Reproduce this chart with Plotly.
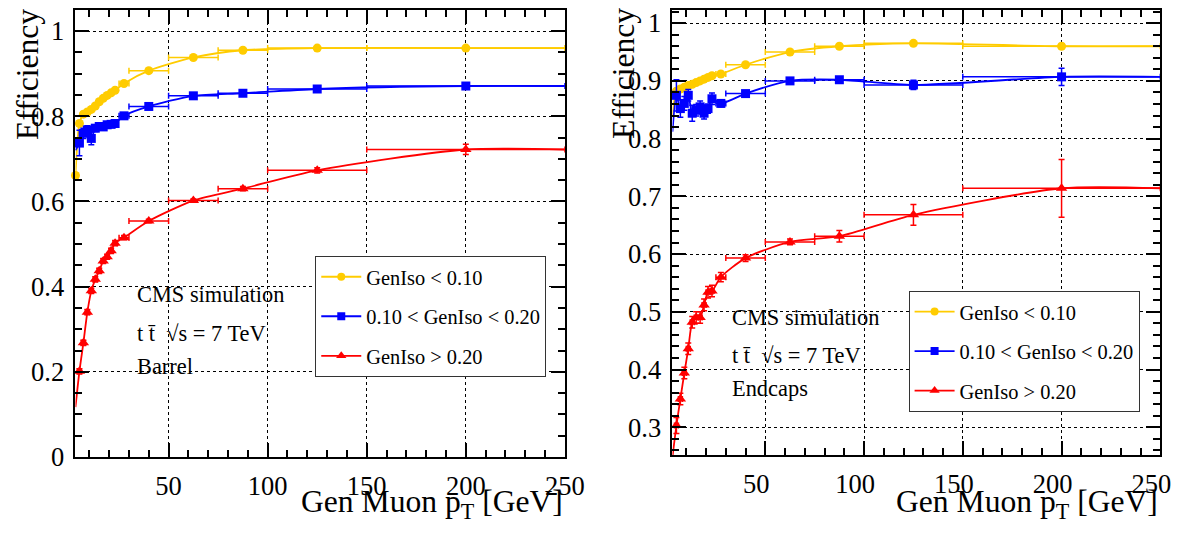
import plotly.graph_objects as go

# Page geometry: the page keeps the browser's 8 px body margin and the
# snapshot is scaled slightly; these constants map reference pixels to
# figure pixels.
BODY_MARGIN = 8
W, H = 1182, 517
S_X, S_Y = 0.988, 0.972
S_F = (S_X * S_Y) ** 0.5

# ---------------- data ----------------
PT_EDGE = 3.0          # first bin / left edge of the x range
PT_MAX = 250.0
PT = [5, 7, 9, 11, 13, 15, 17, 19, 21, 23, 27.5, 40, 62.5, 87.5, 125, 200]
PT_HALF = [1, 1, 1, 1, 1, 1, 1, 1, 1, 1, 2.5, 10, 12.5, 12.5, 25, 50]

SERIES_NAMES = ["GenIso < 0.10", "0.10 < GenIso < 0.20", "GenIso > 0.20"]

# Barrel
BARREL_LOW_EFF = [0.783, 0.805, 0.810, 0.816, 0.824, 0.834, 0.842, 0.849, 0.855, 0.861,
                  0.877, 0.907, 0.938, 0.955, 0.960, 0.960]
BARREL_LOW_ERR = [0.006, 0.005, 0.005, 0.005, 0.004, 0.004, 0.004, 0.004, 0.004, 0.004,
                  0.004, 0.003, 0.003, 0.003, 0.003, 0.004]
BARREL_LOW_EDGE = 0.661
BARREL_MID_EFF = [0.737, 0.760, 0.768, 0.748, 0.772, 0.776, 0.775, 0.780, 0.781, 0.783,
                  0.801, 0.823, 0.848, 0.854, 0.864, 0.871]
BARREL_MID_ERR = [0.030, 0.012, 0.010, 0.015, 0.008, 0.008, 0.007, 0.007, 0.006, 0.006,
                  0.005, 0.004, 0.004, 0.004, 0.004, 0.005]
BARREL_MID_EDGE = 0.72
BARREL_HIGH_EFF = [0.201, 0.268, 0.340, 0.390, 0.417, 0.437, 0.460, 0.470, 0.484, 0.502,
                   0.515, 0.554, 0.602, 0.630, 0.673, 0.722]
BARREL_HIGH_ERR = [0.006, 0.006, 0.006, 0.006, 0.006, 0.006, 0.006, 0.006, 0.006, 0.006,
                   0.005, 0.004, 0.004, 0.005, 0.006, 0.012]
BARREL_HIGH_EDGE = 0.117

# Endcaps
ENDCAP_LOW_EFF = [0.882, 0.886, 0.889, 0.892, 0.894, 0.897, 0.900, 0.903, 0.906, 0.909,
                  0.912, 0.928, 0.950, 0.960, 0.965, 0.960]
ENDCAP_LOW_ERR = [0.004, 0.004, 0.003, 0.003, 0.003, 0.003, 0.003, 0.003, 0.003, 0.003,
                  0.003, 0.002, 0.002, 0.002, 0.003, 0.004]
ENDCAP_LOW_EDGE = 0.84
ENDCAP_MID_EFF = [0.875, 0.852, 0.861, 0.875, 0.844, 0.849, 0.855, 0.844, 0.852, 0.869,
                  0.861, 0.878, 0.900, 0.902, 0.893, 0.907]
ENDCAP_MID_ERR = [0.027, 0.015, 0.012, 0.010, 0.014, 0.010, 0.010, 0.010, 0.008, 0.010,
                  0.006, 0.005, 0.004, 0.005, 0.008, 0.015]
ENDCAP_MID_EDGE = 0.812
ENDCAP_HIGH_EFF = [0.303, 0.349, 0.394, 0.436, 0.482, 0.490, 0.490, 0.512, 0.534, 0.536,
                   0.560, 0.593, 0.621, 0.631, 0.668, 0.714]
ENDCAP_HIGH_ERR = [0.014, 0.010, 0.010, 0.010, 0.010, 0.010, 0.010, 0.010, 0.010, 0.010,
                   0.008, 0.006, 0.005, 0.010, 0.018, 0.050]
ENDCAP_HIGH_EDGE = 0.249

X_TICKS = [50, 100, 150, 200, 250]
X_TICK_TEXT = ["50", "100", "150", "200", "250"]
BARREL_Y_TICKS = [0, 0.2, 0.4, 0.6, 0.8, 1.0]
BARREL_Y_TEXT = ["0", "0.2", "0.4", "0.6", "0.8", "1"]
ENDCAP_Y_TICKS = [0.3, 0.4, 0.5, 0.6, 0.7, 0.8, 0.9, 1.0]
ENDCAP_Y_TEXT = ["0.3", "0.4", "0.5", "0.6", "0.7", "0.8", "0.9", "1"]

# ---------------- styling ----------------
FONT = "Liberation Serif, Times New Roman, serif"
COLORS = ["#FFCC00", "#0000FF", "#FF0000"]
SYMBOLS = ["circle", "square", "triangle-up"]
SIZES = [9, 9, 10]


def fs(size):
    """font size compensated for the snapshot scale"""
    return round(size / S_F, 1)


def px_x(p):
    """reference pixel (x) -> paper fraction"""
    return (p / S_X - BODY_MARGIN) / W


def px_y(p):
    """reference pixel (y, from top) -> paper fraction"""
    return 1 - (p / S_Y - BODY_MARGIN) / H


fig = go.Figure()


def add_series(xa, ya, legend, idx, eff, err, edge, edge_marker):
    color = COLORS[idx]
    xs = [PT_EDGE] + PT + [PT_MAX]
    ys = [edge] + eff + [eff[-1]]
    fig.add_trace(go.Scatter(
        x=xs, y=ys, mode="lines", xaxis=xa, yaxis=ya,
        line=dict(color=color, width=1.8, shape="spline", smoothing=0.7),
        showlegend=False, hoverinfo="skip"))
    mx = ([PT_EDGE] if edge_marker else []) + PT
    my = ([edge] if edge_marker else []) + eff
    mex = ([0] if edge_marker else []) + PT_HALF
    mey = ([0.006] if edge_marker else []) + err
    fig.add_trace(go.Scatter(
        x=mx, y=my, mode="markers", xaxis=xa, yaxis=ya, cliponaxis=False,
        marker=dict(color=color, symbol=SYMBOLS[idx], size=SIZES[idx], line=dict(width=0)),
        error_x=dict(type="data", array=mex, color=color, thickness=1.5, width=3),
        error_y=dict(type="data", array=mey, color=color, thickness=1.5, width=3),
        showlegend=False))
    # legend entry
    fig.add_trace(go.Scatter(
        x=[None], y=[None], mode="lines+markers", xaxis=xa, yaxis=ya,
        name=SERIES_NAMES[idx], legend=legend, legendgroup=legend + str(idx),
        legendrank=idx + 1,
        line=dict(color=color, width=1.8),
        marker=dict(color=color, symbol=SYMBOLS[idx], size=SIZES[idx] - 1)))


barrel = [(BARREL_LOW_EFF, BARREL_LOW_ERR, BARREL_LOW_EDGE, True),
          (BARREL_MID_EFF, BARREL_MID_ERR, BARREL_MID_EDGE, False),
          (BARREL_HIGH_EFF, BARREL_HIGH_ERR, BARREL_HIGH_EDGE, False)]
endcap = [(ENDCAP_LOW_EFF, ENDCAP_LOW_ERR, ENDCAP_LOW_EDGE, False),
          (ENDCAP_MID_EFF, ENDCAP_MID_ERR, ENDCAP_MID_EDGE, False),
          (ENDCAP_HIGH_EFF, ENDCAP_HIGH_ERR, ENDCAP_HIGH_EDGE, False)]

for i, (e, er, ed, em) in enumerate(barrel):
    add_series("x", "y", "legend", i, e, er, ed, em)
for i, (e, er, ed, em) in enumerate(endcap):
    add_series("x2", "y2", "legend2", i, e, er, ed, em)

tickfont = dict(family=FONT, size=fs(26), color="black")
common_axis = dict(
    showline=True, linecolor="black", linewidth=2, mirror="ticks",
    ticks="inside", tickcolor="black", tickwidth=1.5, ticklen=14,
    showgrid=True, gridcolor="black", griddash="dot", gridwidth=1,
    zeroline=False, tickfont=tickfont, fixedrange=True,
)


def minor(dtick):
    return dict(dtick=dtick, tick0=0, ticks="inside", ticklen=7, tickcolor="black",
                showgrid=False)


legend_style = dict(xanchor="left", yanchor="top", bgcolor="white",
                    bordercolor="#333333", borderwidth=1,
                    font=dict(family=FONT, size=fs(20), color="black"),
                    tracegroupgap=10, itemwidth=40)

fig.update_layout(
    width=W, height=H,
    margin=dict(l=0, r=0, t=0, b=0),
    paper_bgcolor="white", plot_bgcolor="white",
    font=dict(family=FONT, color="black"),
    xaxis=dict(domain=[px_x(75.7), px_x(567.6)], range=[PT_EDGE, PT_MAX],
               tickvals=X_TICKS, ticktext=X_TICK_TEXT, anchor="y", ticklabelstandoff=4,
               minor=minor(10), **common_axis),
    yaxis=dict(domain=[px_y(457), 1.0], range=[0, 1.0495],
               tickvals=BARREL_Y_TICKS, ticktext=BARREL_Y_TEXT, anchor="x", ticklabelstandoff=4,
               minor=minor(0.05), **common_axis),
    xaxis2=dict(domain=[px_x(675.7), px_x(1166)], range=[PT_EDGE, PT_MAX],
                tickvals=X_TICKS, ticktext=X_TICK_TEXT, anchor="y2", ticklabelstandoff=4,
                ticklabelshift=-9, minor=minor(10), **common_axis),
    yaxis2=dict(domain=[px_y(455), 1.0], range=[0.252, 1.0228],
                tickvals=ENDCAP_Y_TICKS, ticktext=ENDCAP_Y_TEXT, anchor="x2", ticklabelstandoff=4,
                minor=minor(0.02), **common_axis),
    legend=dict(x=px_x(316.7), y=px_y(255), **legend_style),
    legend2=dict(x=px_x(913), y=px_y(290), **legend_style),
)

ann_font = dict(family=FONT, size=fs(22), color="black")
title_font = dict(family=FONT, size=fs(31), color="black")
X_TITLE_Y = 1 - 510.5 / H   # placed at the page bottom
annotations = [
    dict(text="Efficiency", x=px_x(28), y=px_y(72), textangle=-90, font=title_font),
    dict(text="Efficiency", x=px_x(627), y=px_y(72), textangle=-90, font=title_font),
    dict(text="Gen Muon p<sub>T</sub> [GeV]", x=px_x(568), y=X_TITLE_Y,
         xanchor="right", font=title_font),
    dict(text="Gen Muon p<sub>T</sub> [GeV]", x=px_x(1166), y=X_TITLE_Y,
         xanchor="right", font=title_font),
    dict(text="CMS simulation", x=px_x(136), y=px_y(294), xanchor="left", font=ann_font),
    dict(text="t t\u0304  \u221As = 7 TeV", x=px_x(136), y=px_y(333), xanchor="left", font=ann_font),
    dict(text="Barrel", x=px_x(136), y=px_y(366), xanchor="left", font=ann_font),
    dict(text="CMS simulation", x=px_x(734), y=px_y(317), xanchor="left", font=ann_font),
    dict(text="t t\u0304  \u221As = 7 TeV", x=px_x(734), y=px_y(355), xanchor="left", font=ann_font),
    dict(text="Endcaps", x=px_x(734), y=px_y(388), xanchor="left", font=ann_font),
]
for a in annotations:
    a.update(xref="paper", yref="paper", showarrow=False)
    a.setdefault("xanchor", "center")
    a.setdefault("yanchor", "middle")
fig.update_layout(annotations=annotations)

fig.write_html("out.html", config={"displayModeBar": False})
